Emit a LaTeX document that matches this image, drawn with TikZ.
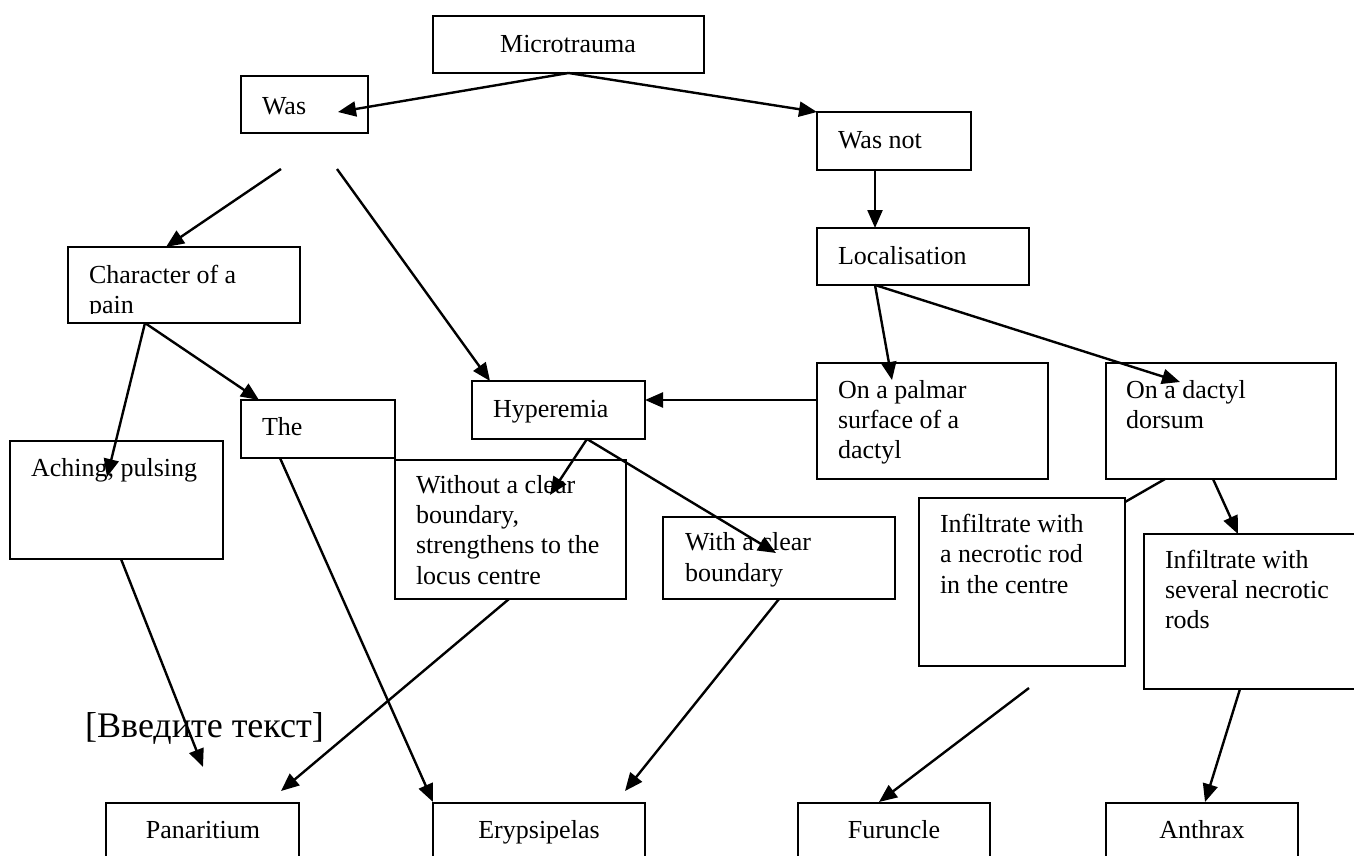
\documentclass[tikz,border=0pt]{standalone}
\usepackage{fontspec}
\setmainfont{Liberation Serif}
\usetikzlibrary{arrows.meta}
\tikzset{
  box/.style={draw, line width=2pt, inner sep=0pt, outer sep=0pt, anchor=north west},
  txt/.style={inner sep=0pt, outer sep=0pt, anchor=base west, align=left, font=\fontsize{26}{30}\selectfont},
  ctxt/.style={inner sep=0pt, outer sep=0pt, anchor=base, font=\fontsize{26}{30}\selectfont},
  conn/.style={line width=2.4pt, -{Triangle[length=18pt,width=15pt]}},
  plain/.style={line width=2.4pt}
}
\newcommand{\bx}[5]{\node[box, minimum width=#4pt-#2pt, minimum height=#5pt-#3pt] (#1) at (#2,#3) {};}
\begin{document}
\begin{tikzpicture}[x=1pt,y=-1pt]
\clip (0,0) rectangle (1354,856);
\fill[white] (0,0) rectangle (1354,856);
% boxes
\bx{micro}{433}{16}{704}{73}
\bx{was}{241}{76}{368}{133}
\bx{wasnot}{817}{112}{971}{170}
\bx{loc}{817}{228}{1029}{285}
\bx{char}{68}{247}{300}{323}
\bx{the}{241}{400}{395}{458}
\bx{ach}{10}{441}{223}{559}
\bx{hyp}{472}{381}{645}{439}
\bx{without}{395}{460}{626}{599}
\bx{with}{663}{517}{895}{599}
\bx{palm}{817}{363}{1048}{479}
\bx{dors}{1106}{363}{1336}{479}
\bx{inf1}{919}{498}{1125}{666}
\bx{inf2}{1144}{534}{1370}{689}
\bx{pan}{106}{803}{299}{880}
\bx{ery}{433}{803}{645}{880}
\bx{fur}{798}{803}{990}{880}
\bx{anth}{1106}{803}{1298}{880}
% texts
\node[ctxt] at (568,53) {Microtrauma};
\node[txt] at (262,114) {Was};
\node[txt] at (838,149) {Was not};
\node[txt] at (838,264) {Localisation};
\begin{scope}
\clip (68,247) rectangle (300,313);
\node[txt] at (89,283) {Character of a};
\node[txt] at (89,313) {pain};
\end{scope}
\node[txt] at (262,435) {The};
\node[txt] at (31,476) {Aching, pulsing};
\node[txt] at (493,417) {Hyperemia};
\node[txt] at (416,493) {Without a clear};
\node[txt] at (416,523) {boundary,};
\node[txt] at (416,553) {strengthens to the};
\node[txt] at (416,584) {locus centre};
\node[txt] at (685,550) {With a clear};
\node[txt] at (685,581) {boundary};
\node[txt] at (838,398) {On a palmar};
\node[txt] at (838,428) {surface of a};
\node[txt] at (838,458) {dactyl};
\node[txt] at (1126,398) {On a dactyl};
\node[txt] at (1126,428) {dorsum};
\node[txt] at (940,532) {Infiltrate with};
\node[txt] at (940,562) {a necrotic rod};
\node[txt] at (940,593) {in the centre};
\node[txt] at (1165,568) {Infiltrate with};
\node[txt] at (1165,598) {several necrotic};
\node[txt] at (1165,628) {rods};
\node[ctxt] at (203,838) {Panaritium};
\node[ctxt] at (539,838) {Erypsipelas};
\node[ctxt] at (894,838) {Furuncle};
\node[ctxt] at (1202,838) {Anthrax};
\node[inner sep=0pt, anchor=base west, font=\fontsize{36}{40}\selectfont] (hint) at (85,737) {[Введите текст]};
% coordinates
\coordinate (wasT) at (338,112);
\coordinate (wasnotT) at (817,112);
\coordinate (a1) at (281,169);
\coordinate (a2) at (337,169);
\coordinate (charT) at (166,247);
\coordinate (hypT) at (490,381);
\coordinate (charB) at (145,323);
\coordinate (achT) at (107,477);
\coordinate (theT) at (259,400);
\coordinate (hypB) at (587,439);
\coordinate (withoutT) at (550,495);
\coordinate (withT) at (776,553);
\coordinate (locB) at (875,285);
\coordinate (palmT) at (892,380);
\coordinate (dorsT) at (1180,382);
\coordinate (dorsB1) at (1165,479);
\coordinate (dorsB2) at (1213,479);
\coordinate (inf1C) at (1125,502);
\coordinate (inf2T) at (1238,534);
\coordinate (f0) at (1029,688);
\coordinate (furT) at (879,802);
\coordinate (inf2B) at (1240,689);
\coordinate (anthT) at (1205,802);
\coordinate (achB) at (121,559);
\coordinate (p0) at (203,767);
\coordinate (withoutB) at (509,599);
\coordinate (panT) at (281,791);
\coordinate (theB) at (280,458);
\coordinate (eryT) at (433,802);
\coordinate (withB) at (779,599);
\coordinate (eryT2) at (625,791);
% connectors
\draw[conn] (micro.south) -- (wasT);
\draw[conn] (micro.south) -- (wasnotT);
\draw[conn] (wasnot.south -| locB) -- (loc.north -| locB);
\draw[conn] (a1) -- (charT);
\draw[conn] (a2) -- (hypT);
\draw[conn] (charB) -- (achT);
\draw[conn] (charB) -- (theT);
\draw[conn] (palm.west |- 0,400) -- (hyp.east |- 0,400);
\draw[conn] (hypB) -- (withoutT);
\draw[conn] (hypB) -- (withT);
\draw[conn] (locB) -- (palmT);
\draw[conn] (locB) -- (dorsT);
\draw[plain] (dorsB1) -- (inf1C);
\draw[conn] (dorsB2) -- (inf2T);
\draw[conn] (f0) -- (furT);
\draw[conn] (inf2B) -- (anthT);
\draw[conn] (achB) -- (p0);
\draw[conn] (withoutB) -- (panT);
\draw[conn] (theB) -- (eryT);
\draw[conn] (withB) -- (eryT2);
\end{tikzpicture}
\end{document}
